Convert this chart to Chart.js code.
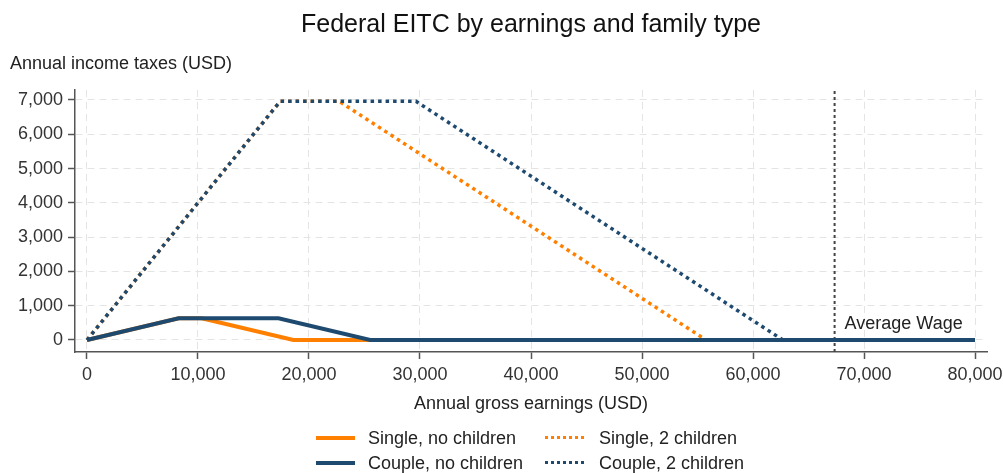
<!DOCTYPE html>
<html lang="en">
<head>
<meta charset="UTF-8" />
<title>Federal EITC</title>
<style>
  body { margin: 0; background: #fff; font-family: "Liberation Sans", Arial, sans-serif; }
  #wrap { position: relative; width: 1003px; height: 473px; overflow: hidden; }
  canvas { position: absolute; left: 0; top: 0; }
  .legend { position: absolute; left: 0; top: 0; font-size: 18px; color: #222; }
  .item { position: absolute; white-space: nowrap; height: 22px; line-height: 22px; }
  .item .sample { position: absolute; top: 9px; left: 0; width: 39px; height: 0; }
  .item .txt { position: absolute; top: 0; }
</style>
</head>
<body>
<div id="wrap">
  <canvas id="eitc" width="1003" height="473"></canvas>
  <div class="legend">
    <div class="item" style="left:316px; top:427px;"><span class="sample" style="border-top:4px solid #ff8000;"></span><span class="txt" style="left:52px;">Single, no children</span></div>
    <div class="item" style="left:545px; top:427px;"><span class="sample" style="border-top:3px dotted #ff8000;"></span><span class="txt" style="left:54px;">Single, 2 children</span></div>
    <div class="item" style="left:316px; top:452px;"><span class="sample" style="border-top:4px solid #1f4a70;"></span><span class="txt" style="left:52px;">Couple, no children</span></div>
    <div class="item" style="left:545px; top:452px;"><span class="sample" style="border-top:3px dotted #1f4a70;"></span><span class="txt" style="left:54px;">Couple, 2 children</span></div>
  </div>
</div>

<script src="https://cdn.jsdelivr.net/npm/chart.js"></script>
<script>
  // earnings breakpoints (USD) and credit values (USD)
  const singleNoKidsX = [0, 8260, 10330, 18591, 80000];
  const singleNoKidsY = [0, 632, 632, 0, 0];
  const coupleNoKidsX = [0, 8260, 17250, 25511, 80000];
  const coupleNoKidsY = [0, 632, 632, 0, 0];
  const single2KidsX = [0, 17400, 22720, 55768, 80000];
  const single2KidsY = [0, 6960, 6960, 0, 0];
  const couple2KidsX = [0, 17400, 29640, 62688, 80000];
  const couple2KidsY = [0, 6960, 6960, 0, 0];
  const averageWage = 67350;

  const xTicks = [0, 10000, 20000, 30000, 40000, 50000, 60000, 70000, 80000];
  const yTicks = [0, 1000, 2000, 3000, 4000, 5000, 6000, 7000];

  const ORANGE = '#ff8000';
  const NAVY = '#1f4a70';
  const FONT = '"Liberation Sans", Arial, sans-serif';
  const X_MIN = -1080, X_MAX = 81080, Y_MIN = -350, Y_MAX = 7290;

  function pts(xs, ys) {
    return xs.map((x, i) => ({ x: x, y: ys[i] }));
  }

  function series(label, xs, ys, color, dotted, order) {
    return {
      label: label,
      data: pts(xs, ys),
      borderColor: color,
      backgroundColor: color,
      borderWidth: dotted ? 3.5 : 4,
      borderDash: dotted ? [3.5, 4] : [],
      pointRadius: 0,
      fill: false,
      tension: 0,
      order: order
    };
  }

  // titles and the "Average Wage" note
  const textPlugin = {
    id: 'texts',
    afterDraw(chart) {
      const ctx = chart.ctx;
      const xs = chart.scales.x;
      const ca = chart.chartArea;
      ctx.save();
      ctx.fillStyle = '#111';
      ctx.font = '25px ' + FONT;
      ctx.textAlign = 'center';
      ctx.textBaseline = 'middle';
      ctx.fillText('Federal EITC by earnings and family type', (ca.left + ca.right) / 2, 25);

      ctx.font = '18px ' + FONT;
      ctx.fillStyle = '#222';
      ctx.textAlign = 'left';
      ctx.fillText('Annual income taxes (USD)', 10, 64);

      ctx.textAlign = 'center';
      ctx.fillText('Annual gross earnings (USD)', (ca.left + ca.right) / 2, 404);

      ctx.textAlign = 'left';
      ctx.fillText('Average Wage', xs.getPixelForValue(averageWage) + 10, 324);
      ctx.restore();
    }
  };

  const ctx = document.getElementById('eitc').getContext('2d');
  new Chart(ctx, {
    type: 'line',
    data: {
      datasets: [
        series('Single, no children', singleNoKidsX, singleNoKidsY, ORANGE, false, 4),
        series('Couple, no children', coupleNoKidsX, coupleNoKidsY, NAVY, false, 2),
        series('Single, 2 children', single2KidsX, single2KidsY, ORANGE, true, 3),
        series('Couple, 2 children', couple2KidsX, couple2KidsY, NAVY, true, 1),
        {
          label: 'Average Wage',
          data: [{ x: averageWage, y: Y_MIN }, { x: averageWage, y: Y_MAX }],
          borderColor: '#444',
          borderWidth: 2,
          borderDash: [3, 3],
          pointRadius: 0,
          order: 5
        }
      ]
    },
    options: {
      responsive: false,
      animation: false,
      layout: { padding: { left: 0, right: 16, top: 90, bottom: 61 } },
      plugins: {
        legend: { display: false },
        title: { display: false },
        tooltip: { enabled: false }
      },
      scales: {
        x: {
          type: 'linear',
          min: X_MIN,
          max: X_MAX,
          afterBuildTicks: s => { s.ticks = xTicks.map(v => ({ value: v })); },
          afterFit: s => { s.height = 60; s.paddingLeft = 0; s.paddingRight = 0; },
          ticks: {
            font: { family: FONT, size: 18 },
            color: '#333',
            padding: 5,
            maxRotation: 0,
            callback: v => v.toLocaleString('en-US')
          },
          grid: {
            color: '#e4e4e4',
            lineWidth: 1,
            tickLength: 7,
            tickColor: '#555',
            tickWidth: 1.5,
            tickBorderDash: []
          },
          border: { display: true, color: '#555', width: 1.5, dash: [7, 5] }
        },
        y: {
          type: 'linear',
          min: Y_MIN,
          max: Y_MAX,
          afterBuildTicks: s => { s.ticks = yTicks.map(v => ({ value: v })); },
          afterFit: s => { s.width = 75; s.paddingTop = 0; s.paddingBottom = 0; },
          ticks: {
            font: { family: FONT, size: 18 },
            color: '#333',
            padding: 5,
            callback: v => v.toLocaleString('en-US')
          },
          grid: {
            color: '#e4e4e4',
            lineWidth: 1,
            tickLength: 7,
            tickColor: '#555',
            tickWidth: 1.5,
            tickBorderDash: []
          },
          border: { display: true, color: '#555', width: 1.5, dash: [7, 5] }
        }
      }
    },
    plugins: [textPlugin]
  });
</script>
</body>
</html>
